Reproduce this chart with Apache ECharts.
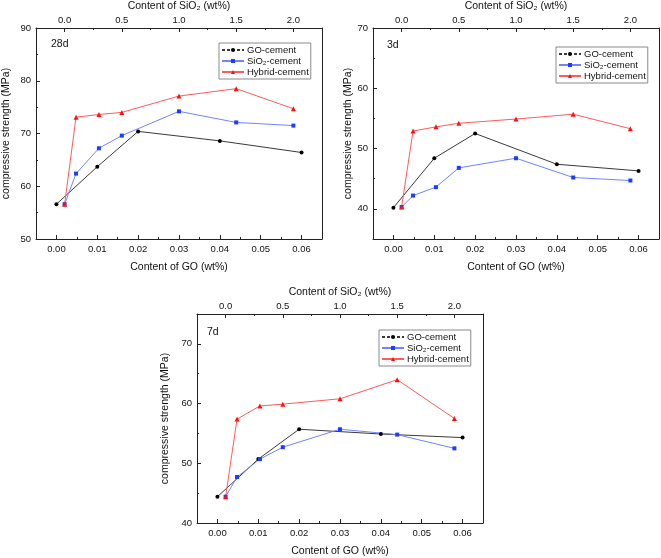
<!DOCTYPE html>
<html><head><meta charset="utf-8">
<script src="https://cdn.jsdelivr.net/npm/echarts@6/dist/echarts.min.js"></script>
<style>html,body{margin:0;padding:0;background:#fff}#c{width:661px;height:558px}</style>
</head><body><div id="c"></div>
<script>
// ---- data ----
const goContent = [0, 0.01, 0.02, 0.04, 0.06];          // wt% GO (bottom axis)
const sio2Content = [0, 0.1, 0.3, 0.5, 1.0, 1.5, 2.0];   // wt% SiO2 (top axis)
const goTicks = [0, 0.01, 0.02, 0.03, 0.04, 0.05, 0.06];
const sio2Ticks = [0, 0.5, 1.0, 1.5, 2.0];
const seriesNames = ['GO-cement', 'SiO\u2082-cement', 'Hybrid-cement'];
const panelLabels = ['28d', '3d', '7d'];

const go28 = [56.6, 63.7, 70.4, 68.6, 66.4];
const sio228 = [56.6, 62.4, 67.2, 69.6, 74.2, 72.1, 71.5];
const hyb28 = [56.6, 73.1, 73.6, 74.0, 77.1, 78.5, 74.7];
const yTicks28 = [50, 60, 70, 80, 90];

const go3 = [40.2, 48.4, 52.5, 47.4, 46.3];
const sio23 = [40.3, 42.2, 43.6, 46.8, 48.4, 45.2, 44.7];
const hyb3 = [40.3, 52.9, 53.6, 54.2, 54.9, 55.7, 53.3];
const yTicks3 = [40, 50, 60, 70];

const go7 = [44.4, 50.7, 55.7, 54.9, 54.3];
const sio27 = [44.4, 47.7, 50.7, 52.7, 55.7, 54.8, 52.5];
const hyb7 = [44.4, 57.4, 59.6, 59.9, 60.8, 64.0, 57.5];
const yTicks7 = [40, 50, 60, 70];

// ---- layout ----
const FONT = '"Liberation Sans", Arial, Helvetica, sans-serif';
const AX = '#222';
const panels = [
  {grid:{left:36, top:28, width:286, height:211}, ymin:50, ymax:90, yt:yTicks28, go:go28, si:sio228, hy:hyb28,
   legend:{left:219, top:43}, label:{left:51, top:39}, yGap:24},
  {grid:{left:373, top:28, width:286, height:211}, ymin:35, ymax:70, yt:yTicks3, go:go3, si:sio23, hy:hyb3,
   legend:{left:556, top:47}, label:{left:387, top:40}, yGap:19},
  {grid:{left:197, top:314, width:286, height:212}, ymin:40, ymax:75, yt:yTicks7, go:go7, si:sio27, hy:hyb7,
   legend:{left:379, top:330}, label:{left:207, top:327}, yGap:26}
];

const grids = [], xAxes = [], yAxes = [], series = [], legends = [], titles = [];
const tickLabel = {fontSize:9.5, color:'#111', fontFamily:FONT};
const nameStyle = {fontSize:10.5, color:'#111', fontFamily:FONT};

panels.forEach((P, p) => {
  grids.push(Object.assign({containLabel:false}, P.grid));
  const line = {show:true, onZero:false, lineStyle:{color:AX, width:1}};
  xAxes.push({type:'value', gridIndex:p, position:'bottom', min:-0.005, max:0.065,
    axisLine:line, splitLine:{show:false},
    axisTick:{inside:true, length:4, customValues:goTicks, lineStyle:{color:AX}},
    axisLabel:Object.assign({customValues:goTicks, margin:5, formatter:v=>v.toFixed(2)}, tickLabel),
    name:'Content of GO (wt%)', nameLocation:'middle', nameGap:23, nameTextStyle:nameStyle});
  xAxes.push({type:'value', gridIndex:p, position:'bottom', min:-0.005, max:0.065, interval:0.005,
    axisLine:{show:false, onZero:false}, splitLine:{show:false}, axisLabel:{show:false},
    axisTick:{inside:true, length:2, lineStyle:{color:AX}}});
  xAxes.push({type:'value', gridIndex:p, position:'top', min:-0.25, max:2.25,
    axisLine:line, splitLine:{show:false},
    axisTick:{inside:true, length:4, customValues:sio2Ticks, lineStyle:{color:AX}},
    axisLabel:Object.assign({customValues:sio2Ticks, margin:3, formatter:v=>v.toFixed(1)}, tickLabel),
    name:'Content of SiO\u2082 (wt%)', nameLocation:'middle', nameGap:16, nameTextStyle:nameStyle});
  xAxes.push({type:'value', gridIndex:p, position:'top', min:-0.25, max:2.25, interval:0.25,
    axisLine:{show:false, onZero:false}, splitLine:{show:false}, axisLabel:{show:false},
    axisTick:{inside:true, length:2, lineStyle:{color:AX}}});
  yAxes.push({type:'value', gridIndex:p, position:'left', min:P.ymin, max:P.ymax,
    axisLine:line, splitLine:{show:false},
    axisTick:{inside:true, length:4, customValues:P.yt, lineStyle:{color:AX}},
    axisLabel:Object.assign({customValues:P.yt, margin:5}, tickLabel),
    name:'compressive strength (MPa)', nameLocation:'middle', nameGap:P.yGap, nameTextStyle:nameStyle});
  yAxes.push({type:'value', gridIndex:p, position:'left', min:P.ymin, max:P.ymax, interval:5,
    axisLine:{show:false, onZero:false}, splitLine:{show:false}, axisLabel:{show:false},
    axisTick:{inside:true, length:2, lineStyle:{color:AX}}});
  yAxes.push({type:'value', gridIndex:p, position:'right', min:P.ymin, max:P.ymax,
    axisLine:line, splitLine:{show:false}, axisLabel:{show:false}, axisTick:{show:false}});

  const xb = 4*p, xt = 4*p+2, yl = 3*p;
  series.push({name:seriesNames[0], type:'line', xAxisIndex:xb, yAxisIndex:yl,
    data:goContent.map((x,i)=>[x, P.go[i]]), symbol:'circle', symbolSize:4,
    lineStyle:{color:'#3a3a3a', width:1}, itemStyle:{color:'#000'}, animation:false});
  series.push({name:seriesNames[1], type:'line', xAxisIndex:xt, yAxisIndex:yl,
    data:sio2Content.map((x,i)=>[x, P.si[i]]), symbol:'rect', symbolSize:4,
    lineStyle:{color:'#7283ff', width:1}, itemStyle:{color:'#1d3cff'}, animation:false});
  series.push({name:seriesNames[2], type:'line', xAxisIndex:xt, yAxisIndex:yl,
    data:sio2Content.map((x,i)=>[x, P.hy[i]]), symbol:'triangle', symbolSize:5,
    lineStyle:{color:'#ff5c5c', width:1}, itemStyle:{color:'#ff1010'}, animation:false});

  legends.push({left:P.legend.left, top:P.legend.top, orient:'vertical', itemWidth:22, itemHeight:5,
    itemGap:1, padding:[2,2,2,2], borderColor:'#8a8a8a', borderWidth:1, backgroundColor:'#fff',
    selectedMode:false, textStyle:{fontSize:9.5, color:'#111', fontFamily:FONT, padding:[0,0,0,-2]},
    data:[{name:seriesNames[0], lineStyle:{type:[3,2]}}, {name:seriesNames[1]}, {name:seriesNames[2]}]});
  titles.push({text:panelLabels[p], left:P.label.left, top:P.label.top, padding:0,
    textStyle:{fontSize:10.5, fontWeight:'normal', color:'#111', fontFamily:FONT}});
});

const chart = echarts.init(document.getElementById('c'), null, {renderer:'canvas'});
chart.setOption({animation:false, backgroundColor:'#fff', title:titles, grid:grids,
  xAxis:xAxes, yAxis:yAxes, legend:legends, series:series});
</script></body></html>
